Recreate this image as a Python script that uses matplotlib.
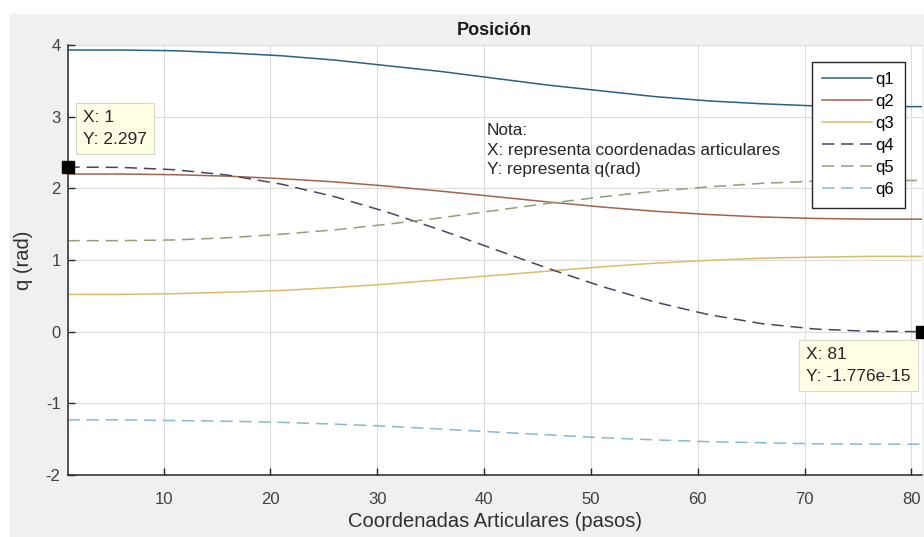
import matplotlib
matplotlib.use("Agg")
import matplotlib.pyplot as plt
from matplotlib.patches import Rectangle

plt.rcParams['font.family'] = ['Liberation Sans', 'DejaVu Sans']
plt.rcParams['axes.unicode_minus'] = False

# Joint trajectory samples (every 5 steps, steps 1..81)
pasos = [1, 6, 11, 16, 21, 26, 31, 36, 41, 46, 51, 56, 61, 66, 71, 76, 81]
q1 = [3.93, 3.93, 3.92, 3.89, 3.85, 3.79, 3.71, 3.63, 3.535, 3.44, 3.36, 3.28, 3.22, 3.18, 3.15, 3.14, 3.14]
q2 = [2.20, 2.20, 2.19, 2.17, 2.135, 2.09, 2.03, 1.96, 1.885, 1.81, 1.74, 1.68, 1.635, 1.60, 1.58, 1.57, 1.57]
q3 = [0.52, 0.52, 0.53, 0.55, 0.575, 0.615, 0.665, 0.725, 0.785, 0.845, 0.905, 0.955, 0.995, 1.025, 1.04, 1.05, 1.05]
q4 = [2.297, 2.292, 2.260, 2.185, 2.059, 1.884, 1.665, 1.415, 1.149, 0.882, 0.632, 0.413, 0.238, 0.112, 0.037, 0.005, -1.776e-15]
q5 = [1.27, 1.27, 1.28, 1.31, 1.36, 1.42, 1.50, 1.59, 1.69, 1.79, 1.88, 1.96, 2.02, 2.07, 2.10, 2.11, 2.11]
q6 = [-1.23, -1.23, -1.24, -1.25, -1.265, -1.29, -1.32, -1.36, -1.40, -1.44, -1.48, -1.51, -1.535, -1.55, -1.565, -1.57, -1.57]

labels = ['q1', 'q2', 'q3', 'q4', 'q5', 'q6']
colors = ['#2c5f80', '#a0654a', '#d9bd6a', '#4a4463', '#8fa07a', '#86b8cf']
styles = ['-', '-', '-', '--', '--', '--']

xticks = [10, 20, 30, 40, 50, 60, 70, 80]
yticks = [-2, -1, 0, 1, 2, 3, 4]

tip_start = (1, 2.297)
tip_end = (81, -1.776e-15)

W, H = 924, 537
fig = plt.figure(figsize=(W / 100, H / 100), dpi=100, facecolor='white')
fig.patches.append(Rectangle((10 / W, 0), 1, 1 - 14 / H, transform=fig.transFigure,
                             facecolor='#f0f0f0', edgecolor='none', zorder=-10))

ax = fig.add_axes([67.5 / W, 62 / H, (922 - 67.5) / W, (475 - 45) / H])
ax.set_facecolor('white')

series = [q1, q2, q3, q4, q5, q6]
for ys, lab, col, ls in zip(series, labels, colors, styles):
    ax.plot(pasos, ys, ls, color=col, lw=1.1, label=lab,
            dashes=(8, 4.5) if ls == '--' else (None, None))

ax.set_xlim(1, 81)
ax.set_ylim(-2, 4)
ax.set_xticks(xticks)
ax.set_yticks(yticks)
ax.grid(True, color='#dcdcdc', lw=0.8)
ax.set_axisbelow(True)
for s in ['top', 'right']:
    ax.spines[s].set_visible(False)
for s in ['left', 'bottom']:
    ax.spines[s].set_color('#262626')
    ax.spines[s].set_linewidth(1.1)
ax.tick_params(direction='in', length=5, width=1, colors='#262626',
               labelsize=12, labelcolor='#404040')
ax.tick_params(axis='x', pad=12.5)
ax.tick_params(axis='y', pad=5)

ax.set_title('Posición', fontsize=13, fontweight='bold', color='#1a1a1a', pad=7.5)
ax.set_xlabel('Coordenadas Articulares (pasos)', fontsize=14.5, color='#303030', labelpad=3.5)
ax.set_ylabel('q (rad)', fontsize=14.5, color='#303030', labelpad=9)

leg = ax.legend(loc='upper left', bbox_to_anchor=(812 / W, 1 - 62 / H),
                bbox_transform=fig.transFigure, borderaxespad=0, fontsize=12,
                handlelength=3.0, handletextpad=0.2, labelspacing=0.42,
                borderpad=0.62, fancybox=False, framealpha=1, edgecolor='#262626')
leg.get_frame().set_linewidth(1.0)

fig.text(487 / W, 1 - 123 / H,
         'Nota:\nX: representa coordenadas articulares\nY: representa q(rad)',
         fontsize=12.4, color='#262626', va='top', ha='left', linespacing=1.38)

# Data tips
tip_box = dict(boxstyle='square,pad=0.42', facecolor='#ffffe6', edgecolor='#d8d8c8', lw=0.8)
for (xv, yv), (px, py) in [(tip_start, (83, 110)), (tip_end, (806, 347))]:
    ax.plot([xv], [yv], 's', color='black', ms=9, clip_on=False, zorder=5)
    fig.text(px / W, 1 - py / H, 'X: %g\nY: %.4g' % (xv, yv), fontsize=12.5,
             color='#262626', va='top', ha='left', bbox=tip_box, linespacing=1.55)

fig.savefig('out.png', dpi=100, facecolor=fig.get_facecolor())
